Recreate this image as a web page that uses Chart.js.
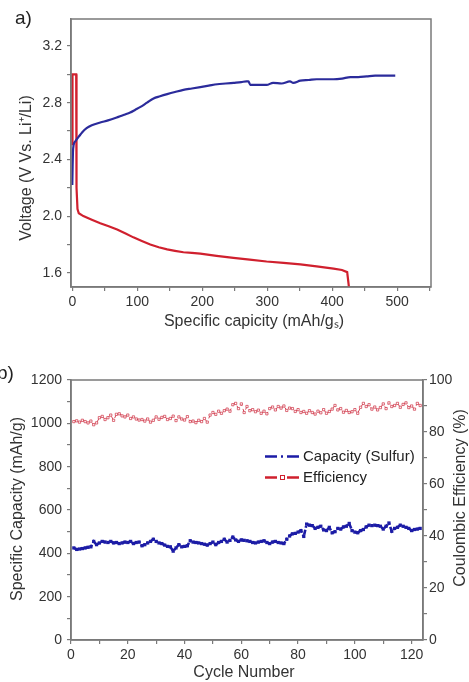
<!DOCTYPE html>
<html><head><meta charset="utf-8">
<script src="https://cdn.jsdelivr.net/npm/chart.js@4.4.0/dist/chart.umd.min.js"></script>
<style>
html,body{margin:0;padding:0;background:#fff;width:469px;height:682px;overflow:hidden;font-family:"Liberation Sans",Arial,sans-serif;}
#wa{position:absolute;left:0;top:0;width:469px;height:330px;}
#wb{position:absolute;left:0;top:330px;width:469px;height:352px;}
.lab{position:absolute;font-size:19px;color:#222;line-height:1;}
</style></head><body>
<div id="wa"><canvas id="ca"></canvas></div>
<div id="wb"><canvas id="cb"></canvas></div>
<div class="lab" style="left:15px;top:8px">a)</div>
<div class="lab" style="left:-3px;top:363px">b)</div>
<script>
// ---------- Panel a data ----------
const chargeCap = [0,0.5,1,2,5,10,15,22,30,43,55,71,80,89,97,105,115,125,135,146,158,171,184,197,210,223,236,248,260,268,271,274,286,299,309,322,335,340,351,364,376,389,402,415,428,440,453,466,479,497];
const chargeV   = [2.22,2.35,2.45,2.50,2.53,2.56,2.59,2.62,2.64,2.66,2.675,2.70,2.715,2.73,2.75,2.77,2.80,2.83,2.845,2.86,2.875,2.89,2.90,2.91,2.92,2.93,2.935,2.94,2.945,2.95,2.95,2.925,2.925,2.925,2.94,2.935,2.95,2.94,2.955,2.96,2.965,2.965,2.965,2.97,2.98,2.98,2.985,2.99,2.99,2.99];
const dischargeCap = [0.3,0.3,6,6.5,8,10,17,30,43,56,69,82,94,107,120,133,146,158,171,184,197,222,248,273,299,325,351,376,402,415,423,427];
const dischargeV   = [2.5,3.0,3.0,2.2,2.05,2.02,2.0,1.975,1.95,1.928,1.905,1.877,1.85,1.825,1.80,1.78,1.765,1.755,1.745,1.74,1.735,1.72,1.705,1.693,1.68,1.67,1.66,1.645,1.63,1.62,1.605,1.45];
const aYTicks = [1.6,1.8,2.0,2.2,2.4,2.6,2.8,3.0,3.2];
const aYLabels = [1.6,2.0,2.4,2.8,3.2];
const aXTicks = [0,50,100,150,200,250,300,350,400,450,500,550];
const aXLabels = [0,100,200,300,400,500];

// ---------- Panel b data ----------
const capacity = [425,418,420,422,425,428,430,455,440,448,455,452,450,455,448,450,445,448,452,450,
455,445,450,452,435,440,448,455,465,455,448,445,438,432,430,410,425,440,430,432,
435,458,452,450,448,445,442,438,445,452,440,450,455,465,452,460,475,462,455,462,
460,458,455,450,448,452,455,458,450,445,452,455,450,448,445,465,480,490,492,498,
505,478,535,530,528,515,520,525,508,505,520,495,500,515,512,522,525,538,505,498,
495,505,510,522,530,528,530,528,525,512,525,540,502,515,520,530,525,520,515,505,
510,512,515];
const efficiency = [84.0,84.3,83.8,84.5,84.0,83.5,84.2,82.8,83.5,85.5,86.0,84.8,85.5,86.5,84.5,86.8,87.0,86.2,85.8,86.5,
85.2,85.8,85.0,84.6,84.8,84.2,85.0,83.8,84.5,85.8,84.9,85.6,86.0,84.8,85.2,86.1,84.4,85.8,85.0,84.6,
85.9,84.0,84.2,83.6,84.5,84.0,85.2,83.8,86.5,87.5,86.8,88.0,87.2,88.2,88.8,88.0,90.5,91.0,89.0,90.8,
87.5,89.8,88.2,88.6,87.8,88.4,87.2,88.0,87.0,89.0,89.6,88.5,89.8,89.2,90.0,88.3,89.2,89.0,87.9,88.6,
87.5,87.9,87.2,88.2,87.5,86.9,88.0,87.4,88.6,87.2,87.9,88.8,90.2,88.5,89.0,87.6,88.3,87.5,87.8,88.6,
87.2,89.5,91.0,89.8,90.5,88.8,89.6,88.5,89.4,90.8,89.0,91.2,89.8,90.2,91.0,89.5,90.6,91.2,89.4,90.0,
88.8,91.0,90.2];
const cycles = capacity.map((_, i) => i + 1);
const bXTicks = [0,10,20,30,40,50,60,70,80,90,100,110,120];
const bXLabels = [0,20,40,60,80,100,120];
const bYTicks = [0,100,200,300,400,500,600,700,800,900,1000,1100,1200];
const bYLabels = [0,200,400,600,800,1000,1200];
const bY2Ticks = [0,10,20,30,40,50,60,70,80,90,100];
const bY2Labels = [0,20,40,60,80,100];

const FONT = '"Liberation Sans", Arial, sans-serif';
const GREY = '#7a7a7a';
const BLUE = '#1c1ca6';
const RED = '#d0202e';

function has(list, v){ return list.some(x => Math.abs(x - v) < 1e-6); }
function axis(extra, ticksList, labelsList, fmt, pad, size, horizontal){
  return Object.assign({
    type:'linear',
    afterBuildTicks: s => { s.ticks = ticksList.map(v => ({value:v})); },
    afterFit: s => { if (horizontal) s.height = size; else s.width = size; },
    grid:{display:true, drawOnChartArea:false, drawTicks:true, tickLength:4, color:GREY, lineWidth:1.2},
    border:{display:true, color:GREY, width:1.5},
    ticks:{autoSkip:false, maxRotation:0, padding:pad, color:'#333', font:{family:FONT, size:14},
      callback: v => has(labelsList, v) ? fmt(v) : ''}
  }, extra);
}

const framePlugin = {
  id:'frame',
  afterDraw(chart, args, opts){
    const {ctx, chartArea:a} = chart;
    ctx.save();
    ctx.strokeStyle = GREY; ctx.lineWidth = 1.5;
    ctx.strokeRect(a.left, a.top, a.right - a.left, a.bottom - a.top);
    ctx.fillStyle = '#333';
    ctx.font = '16px ' + FONT;
    ctx.textAlign = 'center'; ctx.textBaseline = 'middle';
    (opts.titles || []).forEach(t => {
      ctx.save(); ctx.translate(t.x, t.y); ctx.rotate(t.rot || 0); ctx.fillText(t.text, 0, 0); ctx.restore();
    });
    if (opts.legend) {
      opts.legend.forEach(l => {
        ctx.save();
        ctx.strokeStyle = l.color; ctx.lineWidth = 2.4;
        ctx.setLineDash([12,4,2,4]);
        ctx.beginPath(); ctx.moveTo(l.x, l.y); ctx.lineTo(l.x + 35, l.y); ctx.stroke();
        ctx.setLineDash([]);
        if (l.square) {
          ctx.lineWidth = 1; ctx.fillStyle = '#fff';
          ctx.fillRect(l.x + 15.5, l.y - 2, 4, 4);
          ctx.strokeRect(l.x + 15.5, l.y - 2, 4, 4);
        }
        ctx.fillStyle = '#222'; ctx.font = '15px ' + FONT;
        ctx.textAlign = 'left'; ctx.textBaseline = 'middle';
        ctx.fillText(l.text, l.x + 38, l.y);
        ctx.restore();
      });
    }
    ctx.restore();
  }
};

new Chart(document.getElementById('ca'), {
  type:'line',
  data:{datasets:[
    {data: chargeCap.map((x,i) => ({x, y: chargeV[i]})), borderColor:'#2b2b9b', borderWidth:2.2, pointRadius:0, tension:0, cubicInterpolationMode:'monotone'},
    {data: dischargeCap.map((x,i) => ({x, y: dischargeV[i]})), borderColor:RED, borderWidth:2.2, pointRadius:0, tension:0}
  ]},
  options:{
    responsive:true, maintainAspectRatio:false, animation:false, devicePixelRatio:1,
    layout:{padding:{top:19, right:38, left:0, bottom:0}},
    plugins:{legend:{display:false}, tooltip:{enabled:false},
      frame:{titles:[
        {text:'Voltage (V Vs. Li\u207A/Li)', x:27, y:168, rot:-Math.PI/2},
        {text:'Specific capicity (mAh/g\u209B)', x:254, y:322}
      ]}},
    scales:{
      x: axis({position:'bottom', min:-2, max:552}, aXTicks, aXLabels, v => String(v), 3, 43, true),
      y: axis({position:'left', min:1.5, max:3.39}, aYTicks, aYLabels, v => v.toFixed(1), 5, 71, false)
    }
  },
  plugins:[framePlugin]
});

new Chart(document.getElementById('cb'), {
  type:'line',
  data:{datasets:[
    {data: cycles.map((x,i) => ({x, y: capacity[i]})), yAxisID:'y', borderColor:BLUE, backgroundColor:BLUE,
      borderWidth:2.6, borderDash:[5,2,2,2], pointStyle:'rect', pointRadius:2.3, pointBorderWidth:0, tension:0},
    {data: cycles.map((x,i) => ({x, y: efficiency[i]})), yAxisID:'y2', borderColor:'rgba(205,40,60,0.85)', backgroundColor:'#fff',
      borderWidth:1, borderDash:[4,3], pointStyle:'rect', pointRadius:1.6, pointBorderWidth:0.8, tension:0}
  ]},
  options:{
    responsive:true, maintainAspectRatio:false, animation:false, devicePixelRatio:1,
    layout:{padding:{top:50, right:0, left:0, bottom:0}},
    plugins:{legend:{display:false}, tooltip:{enabled:false},
      frame:{
        titles:[
          {text:'Specific Capacity (mAh/g)', x:18, y:179, rot:-Math.PI/2},
          {text:'Coulombic Efficiency (%)', x:461, y:168, rot:-Math.PI/2},
          {text:'Cycle Number', x:244, y:343}
        ],
        legend:[
          {text:'Capacity (Sulfur)', x:265, y:126.5, color:BLUE},
          {text:'Efficiency', x:265, y:147.5, color:RED, square:true}
        ]
      }},
    scales:{
      x: axis({position:'bottom', min:0, max:124}, bXTicks, bXLabels, v => String(v), 3, 42, true),
      y: axis({position:'left', min:0, max:1200}, bYTicks, bYLabels, v => String(v), 5, 71, false),
      y2: axis({position:'right', min:0, max:100}, bY2Ticks, bY2Labels, v => String(v), 2, 46, false)
    }
  },
  plugins:[framePlugin]
});
</script>
</body></html>
